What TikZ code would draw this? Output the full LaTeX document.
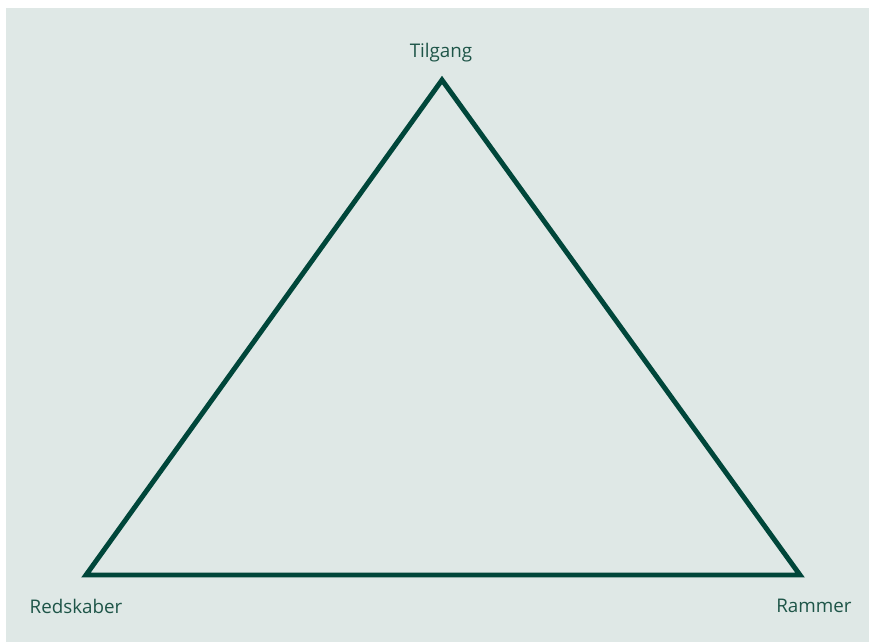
\documentclass[tikz,border=0pt]{standalone}
\usepackage{fontspec}
\setmainfont{Open Sans}
\usetikzlibrary{positioning}
\definecolor{bgmint}{HTML}{DFE8E6}
\definecolor{deepgreen}{HTML}{00463A}
\definecolor{labelgreen}{HTML}{1E5548}

\begin{document}
\begin{tikzpicture}[
		x=0.02cm, y=-0.02cm,
		backdrop/.style={fill=bgmint, draw=none},
		edge/.style={draw=deepgreen, line width=2.8pt, line join=miter},
		corner/.style={font=\fontsize{10.7}{12}\selectfont, text=labelgreen, inner sep=0pt}
		]
		
		% Frame and background
		\useasboundingbox[fill=white] (0,0) rectangle (869,643);
		\fill[backdrop] (6,8) rectangle (869,642);
		
		% Corners of the triangle
		\coordinate (top) at (442,80);
		\coordinate (left) at (86,575);
		\coordinate (right) at (800,575);
		
		\draw[edge] (top) -- (right) -- (left) -- cycle;
		
		% Labels
		\node[corner] (tilgang) at (441,53) {Tilgang};
		\node[corner] (redskaber) at (76,606) {Redskaber};
		\node[corner] (rammer) at (814,606) {Rammer};
		
	\end{tikzpicture}
\end{document}
